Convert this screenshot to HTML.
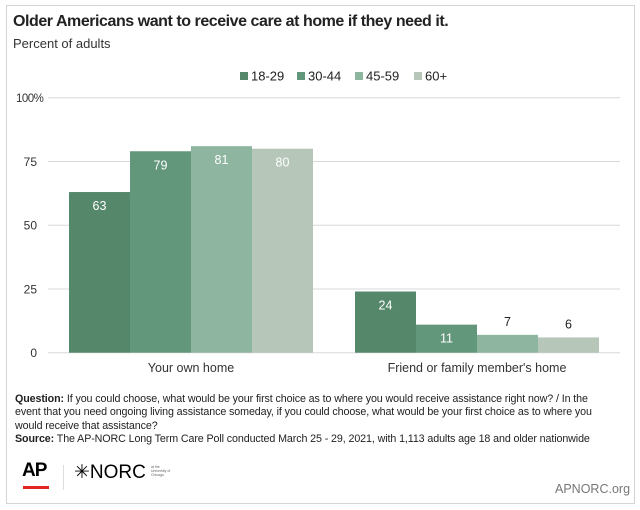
<!DOCTYPE html>
<html><head><meta charset="utf-8"><style>
body{margin:0;width:640px;height:510px;background:#fff;font-family:"Liberation Sans",sans-serif;position:relative;overflow:hidden}
.card{position:absolute;left:6px;top:5px;width:627px;height:497px;border:1px solid #d4d4d4;}
.t{position:absolute;white-space:nowrap;color:#222}
</style></head><body>
<div class="card"></div>
<div class="t" style="left:13px;top:13px;font-size:16px;font-weight:bold;letter-spacing:-0.45px">Older Americans want to receive care at home if they need it.</div>
<div class="t" style="left:13px;top:36px;font-size:13px;color:#333">Percent of adults</div>
<svg id="chart" width="640" height="400" style="position:absolute;left:0;top:0"></svg>
<div class="t" style="left:15px;top:393px;font-size:10.7px;line-height:13.4px;color:#222;width:592px;white-space:normal;letter-spacing:-0.1px"><b>Question:</b> If you could choose, what would be your first choice as to where you would receive assistance right now? / In the event that you need ongoing living assistance someday, if you could choose, what would be your first choice as to where you would receive that assistance?<br><b>Source:</b> The AP-NORC Long Term Care Poll conducted March 25 - 29, 2021, with 1,113 adults age 18 and older nationwide</div>
<div class="t" style="left:22px;top:460px;font-size:19px;font-weight:bold;color:#000;letter-spacing:-1px">AP</div>
<div style="position:absolute;left:23px;top:486px;width:26px;height:3px;background:#e0261e"></div>
<div style="position:absolute;left:63px;top:465px;width:1px;height:25px;background:#ddd"></div>
<div class="t" style="left:74px;top:461px;font-size:19px;color:#000">✳NORC</div>
<div class="t" style="left:151px;top:465px;font-size:3.5px;line-height:4px;color:#666">at the<br>University of<br>Chicago</div>
<div class="t" style="left:555px;top:482px;font-size:12.5px;color:#777">APNORC.org</div>
<script>
const categories=["Your own home","Friend or family member's home"];
const seriesNames=["18-29","30-44","45-59","60+"];
const s1829=[63,24];
const s3044=[79,11];
const s4559=[81,7];
const s60=[80,6];
const ticks=[0,25,50,75,100];
const series=[s1829,s3044,s4559,s60];
const colors=["#55876b","#62977b","#8eb59f","#b6c7ba"];
const svg=document.getElementById('chart');
const NS="http://www.w3.org/2000/svg";
const y0=352.7,pxPer=2.55;
const y=v=>y0-v*pxPer;
const groupX=i=>69+i*286;
const barW=61;
function mk(t,a){const e=document.createElementNS(NS,t);for(const k in a)e.setAttribute(k,a[k]);svg.appendChild(e);return e;}
ticks.forEach(t=>{
 const l=mk('line',{x1:48,x2:620,y1:y(t),y2:y(t),stroke:'#d8d8d8','stroke-width':1});
 
 
 const tx=mk('text',{x:37,y:y(t)+4.5,'text-anchor':'end','font-size':12,fill:'#333','font-family':'Liberation Sans'});
 tx.textContent=t;
 if(t===100){tx.textContent=t+'%';tx.setAttribute('x',16);tx.setAttribute('text-anchor','start');tx.setAttribute('font-size',11.5);tx.setAttribute('letter-spacing','-0.5');}
 
 
});
categories.forEach((c,i)=>{
 series.forEach((s,j)=>{
  const v=s[i],x=groupX(i)+j*barW;
  const r=mk('rect',{x:x,y:y(v),width:barW,height:v*pxPer,fill:colors[j]});
  
  
  const inside=v*pxPer>24;
  const lt=mk('text',{x:x+barW/2,y:inside?y(v)+18:y(v)-9,'text-anchor':'middle','font-size':12.5,fill:inside?'#fff':'#222','font-family':'Liberation Sans'});
  lt.textContent=v;
  
  
 });
 const ct=mk('text',{x:groupX(i)+2*barW,y:372,'text-anchor':'middle','font-size':12.5,fill:'#333','font-family':'Liberation Sans'});
 ct.textContent=c;
 
 
});
const legX=[240,297,355,414];
seriesNames.forEach((n,j)=>{
 const r=mk('rect',{x:legX[j],y:72,width:8,height:8,fill:colors[j]});
 
 
 const t=mk('text',{x:legX[j]+11,y:80.5,'font-size':13,fill:'#222','font-family':'Liberation Sans'});
 t.textContent=n;
 
 
});
</script>
</body></html>
